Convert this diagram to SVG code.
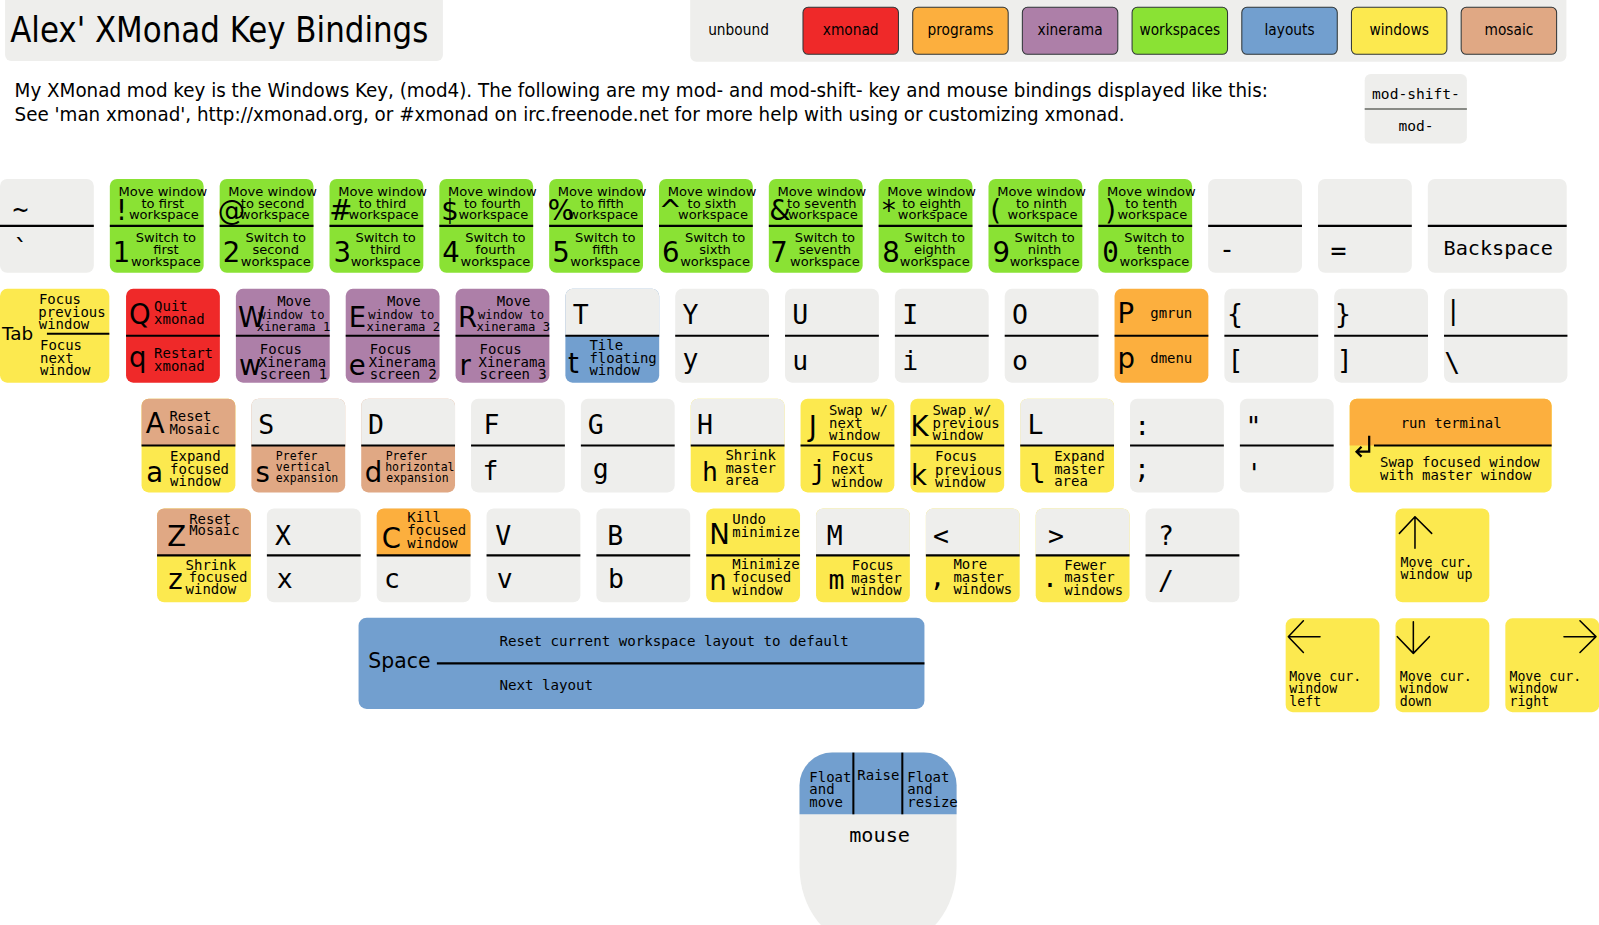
<svg xmlns="http://www.w3.org/2000/svg" width="1599" height="925" viewBox="0 0 1599 925">
<style>
.g{fill:#eeeeec}.r{fill:#ef2929}.o{fill:#fcaf3e}.p{fill:#ad7fa8}.w{fill:#8ae234}.b{fill:#729fcf}.y{fill:#fce94f}.m{fill:#e0a884}
.s{stroke:#000;stroke-width:2;fill:none}
.a{stroke:#000;stroke-width:1.5;fill:none;stroke-linecap:round;stroke-linejoin:round}
.lg{stroke:#2e3436;stroke-width:1}
text{fill:#000}
.L{font-family:"DejaVu Sans",sans-serif;font-size:27px}
.M{font-family:"DejaVu Sans Mono",monospace;font-size:26px;text-anchor:middle}
.N{font-family:"DejaVu Sans",sans-serif;font-size:27px;text-anchor:middle}
.Z{font-family:"DejaVu Sans Mono",monospace;font-size:27px;text-anchor:middle}
.d{font-family:"DejaVu Sans Mono",monospace;font-size:13.7px}
.f{font-family:"DejaVu Sans Mono",monospace;font-size:12px}
.e{font-family:"DejaVu Sans Mono",monospace;font-size:11.3px}
.n{font-family:"DejaVu Sans",sans-serif;font-size:12.8px;text-anchor:middle}
.c{font-family:"DejaVu Sans Condensed","DejaVu Sans",sans-serif;font-stretch:condensed}
.mid{text-anchor:middle}
</style>
<defs>
<rect id="k" width="92" height="92" rx="7"/>
<path id="kt" d="M0,46V7A7,7 0 0 1 7,0H85A7,7 0 0 1 92,7V46Z"/>
<line id="ks" x1="0" y1="46" x2="92" y2="46"/>
</defs>
<rect width="1599" height="925" fill="#fff"/>
<g transform="scale(1.0198)">

<g id="title"><rect x="5" y="-10" width="429.3" height="69.8" rx="6" class="g"/><text class="c" x="10" y="41.5" font-size="35" textLength="410" lengthAdjust="spacingAndGlyphs">Alex' XMonad Key Bindings</text></g>

<g id="legend">
<rect x="676.8" y="-10" width="859.2" height="70.5" rx="6" class="g"/>
<text class="c" x="694.4" y="34.3" font-size="15">unbound</text>
<rect x="787.4" y="7.2" width="93.6" height="46.1" rx="5" class="r lg"/><text class="c mid" x="834.2" y="34.3" font-size="15">xmonad</text>
<rect x="895" y="7.2" width="93.6" height="46.1" rx="5" class="o lg"/><text class="c mid" x="941.8" y="34.3" font-size="15">programs</text>
<rect x="1002.5" y="7.2" width="93.6" height="46.1" rx="5" class="p lg"/><text class="c mid" x="1049.3" y="34.3" font-size="15">xinerama</text>
<rect x="1110.1" y="7.2" width="93.6" height="46.1" rx="5" class="w lg"/><text class="c mid" x="1156.9" y="34.3" font-size="15">workspaces</text>
<rect x="1217.7" y="7.2" width="93.6" height="46.1" rx="5" class="b lg"/><text class="c mid" x="1264.5" y="34.3" font-size="15">layouts</text>
<rect x="1325.2" y="7.2" width="93.6" height="46.1" rx="5" class="y lg"/><text class="c mid" x="1372" y="34.3" font-size="15">windows</text>
<rect x="1432.8" y="7.2" width="93.6" height="46.1" rx="5" class="m lg"/><text class="c mid" x="1479.6" y="34.3" font-size="15">mosaic</text>
</g>

<g id="description">
<text class="c" x="14.3" y="95.5" font-size="19" textLength="1229" lengthAdjust="spacingAndGlyphs">My XMonad mod key is the Windows Key, (mod4). The following are my mod- and mod-shift- key and mouse bindings displayed like this:</text>
<text class="c" x="14.3" y="119" font-size="19" textLength="1088.5" lengthAdjust="spacingAndGlyphs">See 'man xmonad', http://xmonad.org, or #xmonad on irc.freenode.net for more help with using or customizing xmonad.</text>
</g>

<g id="mod-legend"><rect x="1338.2" y="72.6" width="100.2" height="68" rx="6" class="g"/><line x1="1338.2" y1="106.9" x2="1438.4" y2="106.9" stroke="#888a85" stroke-width="2"/><text class="d mid" x="1388.5" y="97.4" style="font-size:14.3px">mod-shift-</text><text class="d mid" x="1388.5" y="128.1" style="font-size:14.3px">mod-</text></g>

<!-- Row 1 -->
<g id="key-grave" transform="translate(0,175.5)"><use href="#k" class="g"/><use href="#ks" class="s"/><text class="M" x="20" y="38.5">~</text><text class="M" x="20.5" y="78">`</text></g>

<g id="key-1" transform="translate(107.7,175.5)"><use href="#k" class="w"/><use href="#ks" class="s"/><text class="N" x="11.5" y="40.5">!</text><text class="N" x="11.5" y="81">1</text><text class="n" x="52" y="16.5">Move window</text><text class="n" x="52" y="28">to first</text><text class="n" x="53" y="39.5">workspace</text><text class="n" x="55" y="61.5">Switch to</text><text class="n" x="55" y="73.5">first</text><text class="n" x="55" y="85">workspace</text></g>
<g id="key-2" transform="translate(215.4,175.5)"><use href="#k" class="w"/><use href="#ks" class="s"/><text class="N" x="11.5" y="40.5">@</text><text class="N" x="11.5" y="81">2</text><text class="n" x="52" y="16.5">Move window</text><text class="n" x="52" y="28">to second</text><text class="n" x="54" y="39.5">workspace</text><text class="n" x="55" y="61.5">Switch to</text><text class="n" x="55" y="73.5">second</text><text class="n" x="55" y="85">workspace</text></g>
<g id="key-3" transform="translate(323.1,175.5)"><use href="#k" class="w"/><use href="#ks" class="s"/><text class="N" x="11" y="40.5">#</text><text class="N" x="12.5" y="81">3</text><text class="n" x="52" y="16.5">Move window</text><text class="n" x="52" y="28">to third</text><text class="n" x="53" y="39.5">workspace</text><text class="n" x="55" y="61.5">Switch to</text><text class="n" x="55" y="73.5">third</text><text class="n" x="55" y="85">workspace</text></g>
<g id="key-4" transform="translate(430.8,175.5)"><use href="#k" class="w"/><use href="#ks" class="s"/><text class="N" x="10.5" y="40.5">$</text><text class="N" x="11.5" y="81">4</text><text class="n" x="52" y="16.5">Move window</text><text class="n" x="52" y="28">to fourth</text><text class="n" x="53" y="39.5">workspace</text><text class="n" x="55" y="61.5">Switch to</text><text class="n" x="55" y="73.5">fourth</text><text class="n" x="55" y="85">workspace</text></g>
<g id="key-5" transform="translate(538.5,175.5)"><use href="#k" class="w"/><use href="#ks" class="s"/><text class="N" x="11.5" y="40.5">%</text><text class="N" x="11.5" y="81">5</text><text class="n" x="52" y="16.5">Move window</text><text class="n" x="52" y="28">to fifth</text><text class="n" x="53" y="39.5">workspace</text><text class="n" x="55" y="61.5">Switch to</text><text class="n" x="55" y="73.5">fifth</text><text class="n" x="55" y="85">workspace</text></g>
<g id="key-6" transform="translate(646.2,175.5)"><use href="#k" class="w"/><use href="#ks" class="s"/><text class="N" x="11" y="40.5">^</text><text class="N" x="11.5" y="81">6</text><text class="n" x="52" y="16.5">Move window</text><text class="n" x="52" y="28">to sixth</text><text class="n" x="53" y="39.5">workspace</text><text class="n" x="55" y="61.5">Switch to</text><text class="n" x="55" y="73.5">sixth</text><text class="n" x="55" y="85">workspace</text></g>
<g id="key-7" transform="translate(753.9,175.5)"><use href="#k" class="w"/><use href="#ks" class="s"/><text class="N" x="11" y="40.5">&amp;</text><text class="N" x="10" y="81">7</text><text class="n" x="52" y="16.5">Move window</text><text class="n" x="52" y="28">to seventh</text><text class="n" x="53" y="39.5">workspace</text><text class="n" x="55" y="61.5">Switch to</text><text class="n" x="55" y="73.5">seventh</text><text class="n" x="55" y="85">workspace</text></g>
<g id="key-8" transform="translate(861.6,175.5)"><use href="#k" class="w"/><use href="#ks" class="s"/><text class="N" x="10" y="40.5">*</text><text class="N" x="12" y="81">8</text><text class="n" x="52" y="16.5">Move window</text><text class="n" x="52" y="28">to eighth</text><text class="n" x="53" y="39.5">workspace</text><text class="n" x="55" y="61.5">Switch to</text><text class="n" x="55" y="73.5">eighth</text><text class="n" x="55" y="85">workspace</text></g>
<g id="key-9" transform="translate(969.3,175.5)"><use href="#k" class="w"/><use href="#ks" class="s"/><text class="N" x="7" y="40.5">(</text><text class="N" x="12.5" y="81">9</text><text class="n" x="52" y="16.5">Move window</text><text class="n" x="52" y="28">to ninth</text><text class="n" x="53" y="39.5">workspace</text><text class="n" x="55" y="61.5">Switch to</text><text class="n" x="55" y="73.5">ninth</text><text class="n" x="55" y="85">workspace</text></g>
<g id="key-0" transform="translate(1077,175.5)"><use href="#k" class="w"/><use href="#ks" class="s"/><text class="N" x="12" y="40.5">)</text><text class="Z" x="12" y="81">0</text><text class="n" x="52" y="16.5">Move window</text><text class="n" x="52" y="28">to tenth</text><text class="n" x="53" y="39.5">workspace</text><text class="n" x="55" y="61.5">Switch to</text><text class="n" x="55" y="73.5">tenth</text><text class="n" x="55" y="85">workspace</text></g>

<g id="key-minus" transform="translate(1184.7,175.5)"><use href="#k" class="g"/><use href="#ks" class="s"/><text class="M" x="18.5" y="77.5">-</text></g>
<g id="key-equal" transform="translate(1292.4,175.5)"><use href="#k" class="g"/><use href="#ks" class="s"/><text class="M" x="20" y="79">=</text></g>
<g id="key-backspace" transform="translate(1400.1,175.5)"><rect width="136.2" height="92" rx="7" class="g"/><line class="s" x1="0" y1="46" x2="136.2" y2="46"/><text class="M" x="69" y="74.5" style="font-size:19.8px">Backspace</text></g>

<!-- Row 2 -->
<g id="key-tab" transform="translate(0,283.2)"><rect width="107.2" height="92" rx="7" class="y"/><line class="s" x1="46" y1="44" x2="107.2" y2="44"/><text class="L" x="2" y="50.5" style="font-size:18px">Tab</text><text class="d" x="38.2" y="14.7">Focus</text><text class="d" x="37.6" y="27.2">previous</text><text class="d" x="38" y="39.5">window</text><text class="d" x="39.2" y="60.5">Focus</text><text class="d" x="39.2" y="72.8">next</text><text class="d" x="39.2" y="85">window</text></g>
<g id="key-q" transform="translate(123.6,283.2)"><use href="#k" class="r"/><use href="#ks" class="s"/><text class="L" x="3" y="34.5">Q</text><text class="d" x="27.5" y="21.9">Quit</text><text class="d" x="27.5" y="35">xmonad</text><text class="L" x="3" y="77">q</text><text class="d" x="27.5" y="67.7">Restart</text><text class="d" x="27.5" y="80.7">xmonad</text></g>
<g id="key-w" transform="translate(231.3,283.2)"><use href="#k" class="p"/><use href="#ks" class="s"/><text class="L" x="2" y="37.5">W</text><text class="d mid" x="57" y="17">Move</text><text class="f" x="22" y="29.5">window to</text><text class="f" x="20.5" y="41.5">xinerama 1</text><text class="L" x="3" y="85">w</text><text class="d" x="23.5" y="64">Focus</text><text class="d" x="22.5" y="76.5">Xinerama</text><text class="d" x="23.5" y="88.5">screen 1</text></g>
<g id="key-e" transform="translate(339,283.2)"><use href="#k" class="p"/><use href="#ks" class="s"/><text class="L" x="3" y="37.5">E</text><text class="d mid" x="57" y="17">Move</text><text class="f" x="22" y="29.5">window to</text><text class="f" x="20.5" y="41.5">xinerama 2</text><text class="L" x="3" y="85">e</text><text class="d" x="23.5" y="64">Focus</text><text class="d" x="22.5" y="76.5">Xinerama</text><text class="d" x="23.5" y="88.5">screen 2</text></g>
<g id="key-r" transform="translate(446.7,283.2)"><use href="#k" class="p"/><use href="#ks" class="s"/><text class="L" x="2.5" y="37.5">R</text><text class="d mid" x="57" y="17">Move</text><text class="f" x="22" y="29.5">window to</text><text class="f" x="20.5" y="41.5">xinerama 3</text><text class="L" x="4" y="85">r</text><text class="d" x="23.5" y="64">Focus</text><text class="d" x="22.5" y="76.5">Xinerama</text><text class="d" x="23.5" y="88.5">screen 3</text></g>
<g id="key-t" transform="translate(554.4,283.2)"><use href="#k" class="b"/><use href="#kt" class="g"/><use href="#ks" class="s"/><text class="M" x="15" y="35">T</text><text class="L" x="2.5" y="83">t</text><text class="d" x="23.6" y="60.5">Tile</text><text class="d" x="23.6" y="73">floating</text><text class="d" x="23.6" y="85">window</text></g>
<g id="key-y" transform="translate(662.1,283.2)"><use href="#k" class="g"/><use href="#ks" class="s"/><text class="M" x="15" y="35">Y</text><text class="M" x="15" y="78">y</text></g>
<g id="key-u" transform="translate(769.8,283.2)"><use href="#k" class="g"/><use href="#ks" class="s"/><text class="M" x="15" y="35">U</text><text class="M" x="15" y="80">u</text></g>
<g id="key-i" transform="translate(877.5,283.2)"><use href="#k" class="g"/><use href="#ks" class="s"/><text class="M" x="15" y="35">I</text><text class="M" x="15" y="80">i</text></g>
<g id="key-o" transform="translate(985.2,283.2)"><use href="#k" class="g"/><use href="#ks" class="s"/><text class="M" x="15" y="35">O</text><text class="M" x="15" y="80">o</text></g>
<g id="key-p" transform="translate(1092.9,283.2)"><use href="#k" class="o"/><use href="#ks" class="s"/><text class="L" x="3" y="34">P</text><text class="d" x="35" y="28.2">gmrun</text><text class="L" x="3" y="77.5">p</text><text class="d" x="35" y="73.2">dmenu</text></g>
<g id="key-bracket-l" transform="translate(1200.6,283.2)"><use href="#k" class="g"/><use href="#ks" class="s"/><text class="M" x="10.3" y="33.8">{</text><text class="M" x="11" y="79">[</text></g>
<g id="key-bracket-r" transform="translate(1308.3,283.2)"><use href="#k" class="g"/><use href="#ks" class="s"/><text class="M" x="8.6" y="33.8">}</text><text class="M" x="10.4" y="79">]</text></g>
<g id="key-backslash" transform="translate(1416,283.2)"><rect width="121" height="92" rx="7" class="g"/><line class="s" x1="0" y1="46" x2="121" y2="46"/><text class="M" x="9" y="29.5">|</text><text class="M" x="8" y="82">\</text></g>

<!-- Row 3 -->
<g id="key-a" transform="translate(138.8,390.9)"><use href="#k" class="y"/><use href="#kt" class="m"/><use href="#ks" class="s"/><text class="L" x="4" y="34">A</text><text class="d" x="27.3" y="22.2">Reset</text><text class="d" x="27.3" y="34.7">Mosaic</text><text class="L" x="4.5" y="81.5">a</text><text class="d" x="28" y="60.8">Expand</text><text class="d" x="28" y="73.9">focused</text><text class="d" x="28" y="86">window</text></g>
<g id="key-s" transform="translate(246.5,390.9)"><use href="#k" class="m"/><use href="#kt" class="g"/><use href="#ks" class="s"/><text class="M" x="14.5" y="35">S</text><text class="L" x="4" y="82">s</text><text class="e" x="24" y="60.5">Prefer</text><text class="e" x="24" y="71">vertical</text><text class="e" x="24" y="81.5">expansion</text></g>
<g id="key-d" transform="translate(354.2,390.9)"><use href="#k" class="m"/><use href="#kt" class="g"/><use href="#ks" class="s"/><text class="M" x="14.5" y="35">D</text><text class="L" x="3.5" y="82">d</text><text class="e" x="24" y="60.5">Prefer</text><text class="e" x="23.5" y="71">horizontal</text><text class="e" x="24.5" y="81.5">expansion</text></g>
<g id="key-f" transform="translate(461.9,390.9)"><use href="#k" class="g"/><use href="#ks" class="s"/><text class="M" x="20" y="35">F</text><text class="M" x="19" y="80">f</text></g>
<g id="key-g" transform="translate(569.6,390.9)"><use href="#k" class="g"/><use href="#ks" class="s"/><text class="M" x="14.5" y="35">G</text><text class="M" x="19.5" y="78">g</text></g>
<g id="key-h" transform="translate(677.3,390.9)"><use href="#k" class="y"/><use href="#kt" class="g"/><use href="#ks" class="s"/><text class="M" x="14" y="35">H</text><text class="M" x="19" y="81">h</text><text class="d" x="34" y="60.5">Shrink</text><text class="d" x="34" y="72.6">master</text><text class="d" x="34" y="85">area</text></g>
<g id="key-j" transform="translate(785,390.9)"><use href="#k" class="y"/><use href="#ks" class="s"/><text class="L" x="8" y="36.5">J</text><text class="d" x="28" y="16.3">Swap w/</text><text class="d" x="28" y="28.8">next</text><text class="d" x="28" y="40.9">window</text><text class="M" x="17" y="79">j</text><text class="d" x="30.5" y="61.5">Focus</text><text class="d" x="30.5" y="73.5">next</text><text class="d" x="30.5" y="86.5">window</text></g>
<g id="key-k" transform="translate(892.7,390.9)"><use href="#k" class="y"/><use href="#ks" class="s"/><text class="L" x="0" y="36.5">K</text><text class="d" x="21.7" y="16.3">Swap w/</text><text class="d" x="21.7" y="28.8">previous</text><text class="d" x="21.7" y="40.9">window</text><text class="L" x="0.5" y="85">k</text><text class="d" x="24.2" y="61.5">Focus</text><text class="d" x="24.2" y="74.5">previous</text><text class="d" x="24.2" y="86.6">window</text></g>
<g id="key-l" transform="translate(1000.4,390.9)"><use href="#k" class="y"/><use href="#kt" class="g"/><use href="#ks" class="s"/><text class="M" x="15" y="35">L</text><text class="M" x="17" y="83">l</text><text class="d" x="33.3" y="61.5">Expand</text><text class="d" x="33.3" y="73.5">master</text><text class="d" x="33.3" y="86">area</text></g>
<g id="key-colon" transform="translate(1108.1,390.9)"><use href="#k" class="g"/><use href="#ks" class="s"/><text class="M" x="12" y="35.9">:</text><text class="M" x="11.6" y="78.3">;</text></g>
<g id="key-quote" transform="translate(1215.8,390.9)"><use href="#k" class="g"/><use href="#ks" class="s"/><text class="M" x="13.3" y="36.7">"</text><text class="M" x="14" y="82.8">'</text></g>
<g id="key-enter" transform="translate(1323.5,390.9)"><rect width="198" height="92" rx="7" class="y"/><path d="M0,46V7A7,7 0 0 1 7,0H191A7,7 0 0 1 198,7V46Z" class="o"/><line class="s" x1="23.8" y1="46" x2="198" y2="46"/><path d="M19.1,36.3V52H6.7M11.6,47.1L6.7,52L11.6,56.9" class="s" style="stroke-width:2.2"/><text class="d mid" x="99.5" y="29.1">run terminal</text><text class="d" x="29.7" y="67.3">Swap focused window</text><text class="d" x="29.7" y="79.8">with master window</text></g>

<!-- Row 4 -->
<g id="key-z" transform="translate(154,498.6)"><use href="#k" class="y"/><use href="#kt" class="m"/><use href="#ks" class="s"/><text class="L" x="10" y="36.5">Z</text><text class="d" x="31.5" y="15">Reset</text><text class="d" x="31.5" y="26.5">Mosaic</text><text class="L" x="11" y="79">z</text><text class="d" x="28" y="60.5">Shrink</text><text class="d" x="31" y="72.5">focused</text><text class="d" x="28" y="84">window</text></g>
<g id="key-x" transform="translate(261.7,498.6)"><use href="#k" class="g"/><use href="#ks" class="s"/><text class="M" x="15.8" y="35.5">X</text><text class="M" x="17.5" y="78">x</text></g>
<g id="key-c" transform="translate(369.4,498.6)"><use href="#k" class="g"/><use href="#kt" class="o"/><use href="#ks" class="s"/><text class="L" x="5" y="38.6">C</text><text class="d" x="30" y="13">Kill</text><text class="d" x="30" y="26.2">focused</text><text class="d" x="30" y="38.6">window</text><text class="M" x="15" y="78">c</text></g>
<g id="key-v" transform="translate(477.1,498.6)"><use href="#k" class="g"/><use href="#ks" class="s"/><text class="M" x="16.5" y="35.5">V</text><text class="M" x="17.8" y="78">v</text></g>
<g id="key-b" transform="translate(584.8,498.6)"><use href="#k" class="g"/><use href="#ks" class="s"/><text class="M" x="18.6" y="35.5">B</text><text class="M" x="19.3" y="78">b</text></g>
<g id="key-n" transform="translate(692.5,498.6)"><use href="#k" class="y"/><use href="#ks" class="s"/><text class="L" x="3" y="35.3">N</text><text class="d" x="25.6" y="15.7">Undo</text><text class="d" x="25.6" y="27.8">minimize</text><text class="L" x="3" y="80">n</text><text class="d" x="25.6" y="59">Minimize</text><text class="d" x="25.6" y="72">focused</text><text class="d" x="25.6" y="85">window</text></g>
<g id="key-m" transform="translate(800.2,498.6)"><use href="#k" class="y"/><use href="#kt" class="g"/><use href="#ks" class="s"/><text class="M" x="18.4" y="35.5">M</text><text class="M" x="20" y="79">m</text><text class="d" x="35" y="60.5">Focus</text><text class="d" x="34.5" y="72.6">master</text><text class="d" x="34.5" y="84.5">window</text></g>
<g id="key-comma" transform="translate(907.9,498.6)"><use href="#k" class="y"/><use href="#kt" class="g"/><use href="#ks" class="s"/><text class="M" x="14.7" y="36">&lt;</text><text class="M" x="11.5" y="76">,</text><text class="d" x="27" y="59.5">More</text><text class="d" x="27" y="72">master</text><text class="d" x="27" y="84">windows</text></g>
<g id="key-period" transform="translate(1015.6,498.6)"><use href="#k" class="y"/><use href="#kt" class="g"/><use href="#ks" class="s"/><text class="M" x="20" y="36">&gt;</text><text class="M" x="14" y="77">.</text><text class="d" x="28" y="60.5">Fewer</text><text class="d" x="28" y="72.5">master</text><text class="d" x="28" y="84.5">windows</text></g>
<g id="key-slash" transform="translate(1123.3,498.6)"><use href="#k" class="g"/><use href="#ks" class="s"/><text class="M" x="20" y="35.5">?</text><text class="M" x="20" y="80">/</text></g>

<!-- Arrows -->
<g id="key-up" transform="translate(1368.4,498.6)"><use href="#k" class="y"/><path class="a" d="M19.1,39.1V8.1M3.8,24.4L19.1,8.1L35.5,24.4"/><text class="d" x="5" y="57.2" style="font-size:13px">Move cur.</text><text class="d" x="5" y="69.5" style="font-size:13px">window up</text></g>
<g id="key-left" transform="translate(1260.7,606.3)"><use href="#k" class="y"/><path class="a" d="M2.6,18H33.7M17.4,2.4L2.6,18L17.4,33.5"/><text class="d" x="3.6" y="61.2" style="font-size:13px">Move cur.</text><text class="d" x="3.6" y="73.6" style="font-size:13px">window</text><text class="d" x="3.6" y="86" style="font-size:13px">left</text></g>
<g id="key-down" transform="translate(1368.4,606.3)"><use href="#k" class="y"/><path class="a" d="M17.5,3.3V34.4M1.8,18L17.5,34.4L33.2,18"/><text class="d" x="4.3" y="61.2" style="font-size:13px">Move cur.</text><text class="d" x="4.3" y="73.6" style="font-size:13px">window</text><text class="d" x="4.3" y="86" style="font-size:13px">down</text></g>
<g id="key-right" transform="translate(1476.1,606.3)"><use href="#k" class="y"/><path class="a" d="M57.5,18H88.9M73.2,2.4L88.9,18L73.2,33.5"/><text class="d" x="4" y="61.2" style="font-size:13px">Move cur.</text><text class="d" x="4" y="73.6" style="font-size:13px">window</text><text class="d" x="4" y="86" style="font-size:13px">right</text></g>

<!-- Space -->
<g id="key-space" transform="translate(351.6,605.7)"><rect width="554.9" height="89.5" rx="8" class="b"/><line class="s" x1="76.8" y1="44.8" x2="554.9" y2="44.8"/><text class="L" x="9.6" y="49.6" style="font-size:20px">Space</text><text class="d" x="138.1" y="27.4" style="font-size:13.9px">Reset current workspace layout to default</text><text class="d" x="138.1" y="70.9" style="font-size:13.9px">Next layout</text></g>

<!-- Mouse -->
<g id="mouse">
<path class="g" d="M784,798.5V770A32,32 0 0 1 816,738H906A32,32 0 0 1 938,770V850A60,75 0 0 1 878,925H844A60,75 0 0 1 784,850Z"/>
<path class="b" d="M784,798.5V770A32,32 0 0 1 816,738H906A32,32 0 0 1 938,770V798.5Z"/>
<line class="s" x1="836.8" y1="738" x2="836.8" y2="798.5"/><line class="s" x1="884.8" y1="738" x2="884.8" y2="798.5"/>
<text class="d" x="793.6" y="766.5">Float</text><text class="d" x="793.6" y="778.9">and</text><text class="d" x="793.6" y="791">move</text>
<text class="d" x="840.7" y="764.9">Raise</text>
<text class="d" x="889.7" y="766.5">Float</text><text class="d" x="889.7" y="778.9">and</text><text class="d" x="889.7" y="791">resize</text>
<text class="M" x="862.5" y="825.3" style="font-size:19.8px">mouse</text>
</g>

</g>
</svg>
